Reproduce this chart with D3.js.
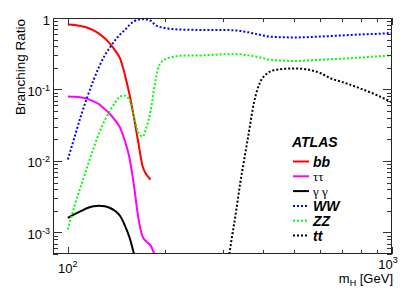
<!DOCTYPE html>
<html>
<head>
<meta charset="utf-8">
<script src="https://cdn.jsdelivr.net/npm/d3@7"></script>
<style>
  body { margin: 0; background: #fff; }
  svg text { font-family: "Liberation Sans", Arial, Helvetica, sans-serif; fill: #000; }
</style>
</head>
<body>
<svg id="chart" width="417" height="305"></svg>
<script>
// Higgs branching ratios vs mass
var massLow = [100,105,110,115,120,125,130,135,140,145,150,155,160,165,170,175,180,185,190];
var bb      = [0.81,0.80,0.77,0.73,0.67,0.60,0.52,0.435,0.35,0.27,0.16,0.085,0.040,0.018,0.0085,0.0064,0.0055,null,null];
var tautau  = [0.080,0.079,0.077,0.074,0.068,0.062,0.053,0.045,0.037,0.029,0.019,0.011,0.0045,0.0016,0.00088,0.00074,0.00066,0.00050,0.00038];
var gamgam  = [0.0016,0.0018,0.0020,0.0022,0.00232,0.00237,0.00232,0.0022,0.0020,0.0017,0.00125,0.00085,0.00050,0.00028,null,null,null,null,null];

var massHigh = [100,105,110,115,120,125,130,135,140,145,150,155,160,165,170,175,180,185,190,195,200,210,220,240,260,280,300,320,340,360,380,400,420,450,500,550,600,650,700,800,900,1000];
var ww = [0.0105,0.022,0.044,0.080,0.135,0.21,0.30,0.39,0.49,0.59,0.68,0.80,0.90,0.95,0.96,0.95,0.92,0.82,0.76,0.74,0.72,0.70,0.69,0.685,0.68,0.68,0.68,0.675,0.66,0.63,0.60,0.57,0.55,0.54,0.535,0.54,0.55,0.56,0.57,0.59,0.60,0.62];
var zz = [0.0011,0.0024,0.0046,0.0085,0.015,0.025,0.037,0.051,0.066,0.080,0.082,0.070,0.042,0.025,0.022,0.030,0.050,0.11,0.20,0.245,0.265,0.285,0.295,0.30,0.30,0.305,0.31,0.31,0.31,0.30,0.29,0.275,0.26,0.255,0.25,0.255,0.26,0.265,0.27,0.28,0.29,0.30];

var massTT = [310,315,320,330,340,350,360,375,390,410,430,450,500,550,600,650,700,800,900,1000];
var tt     = [0.0003,0.0005,0.0008,0.0019,0.0048,0.0105,0.022,0.065,0.12,0.165,0.185,0.192,0.197,0.19,0.17,0.142,0.128,0.103,0.083,0.066];

var series = [
    {label: "bb",  mass: massLow,  values: bb,     color: "#ff0000", dotted: false, bold: true},
    {label: "\u03c4\u03c4", mass: massLow, values: tautau, color: "#ff00ff", dotted: false, bold: false},
    {label: "\u03b3 \u03b3", mass: massLow, values: gamgam, color: "#000000", dotted: false, bold: false},
    {label: "WW",  mass: massHigh, values: ww,     color: "#0000ff", dotted: true, bold: true},
    {label: "ZZ",  mass: massHigh, values: zz,     color: "#00ff00", dotted: true, bold: true},
    {label: "tt",  mass: massTT,   values: tt,     color: "#000000", dotted: true, bold: true}
];

var yMajor = [1e-3, 1e-2, 1e-1, 1];
var yMajorLabels = [["10","-3"],["10","-2"],["10","-1"],["1",""]];
var xMajor = [100, 1000];
var xMajorLabels = [["10","2"],["10","3"]];

var svg = d3.select("#chart");
var pLeft = 53, pRight = 392, pTop = 18, pBottom = 254;

var x = d3.scaleLog().domain([90, 1000]).range([pLeft, pRight]);
var y = d3.scaleLog().domain([5e-4, 1]).range([pBottom, pTop]);

svg.append("clipPath").attr("id","plotclip")
    .append("rect").attr("x", pLeft).attr("y", pTop).attr("width", pRight-pLeft).attr("height", pBottom-pTop);

// curves
var g = svg.append("g").attr("clip-path","url(#plotclip)");
series.forEach(function(s){
    var pts = s.mass.map(function(m,i){ return {m: m, v: s.values[i]}; })
        .filter(function(d){ return d.v != null; });
    var line = d3.line()
        .x(function(d){ return x(d.m); })
        .y(function(d){ return y(d.v); })
        .curve(d3.curveMonotoneX);
    g.append("path")
        .datum(pts)
        .attr("d", line)
        .attr("fill","none")
        .attr("stroke", s.color)
        .attr("stroke-width", 2)
        .attr("stroke-dasharray", s.dotted ? "2,2" : null);
});

// frame
svg.append("rect")
    .attr("x", pLeft+0.5).attr("y", pTop+0.5)
    .attr("width", pRight-pLeft-1).attr("height", pBottom-pTop-1)
    .attr("fill","none").attr("stroke","#222").attr("stroke-width",1);

var ticks = svg.append("g").attr("stroke","#333").attr("stroke-width",1);

// x ticks (top and bottom)
var xMinor = [];
for (var k = 2; k <= 9; k++) xMinor.push(k*100);
xMajor.forEach(function(v){
    var px = Math.round(x(v)) + 0.5;
    ticks.append("line").attr("x1",px).attr("x2",px).attr("y1",pBottom).attr("y2",pBottom-7);
    ticks.append("line").attr("x1",px).attr("x2",px).attr("y1",pTop).attr("y2",pTop+7);
});
xMinor.forEach(function(v){
    var px = Math.round(x(v)) + 0.5;
    ticks.append("line").attr("x1",px).attr("x2",px).attr("y1",pBottom).attr("y2",pBottom-4);
    ticks.append("line").attr("x1",px).attr("x2",px).attr("y1",pTop).attr("y2",pTop+4);
});

// y ticks (left and right)
var yMinor = [];
[1e-4,1e-3,1e-2,1e-1].forEach(function(dec){
    for (var k = 2; k <= 9; k++) {
        var v = k*dec;
        if (v >= 5e-4 && v < 1) yMinor.push(v);
    }
});
yMajor.forEach(function(v){
    var py = Math.round(y(v)) + 0.5;
    ticks.append("line").attr("x1",pLeft).attr("x2",pLeft+9).attr("y1",py).attr("y2",py);
    ticks.append("line").attr("x1",pRight).attr("x2",pRight-9).attr("y1",py).attr("y2",py);
});
yMinor.forEach(function(v){
    var py = Math.round(y(v)) + 0.5;
    ticks.append("line").attr("x1",pLeft).attr("x2",pLeft+5).attr("y1",py).attr("y2",py);
    ticks.append("line").attr("x1",pRight).attr("x2",pRight-5).attr("y1",py).attr("y2",py);
});

// y labels
yMajor.forEach(function(v,i){
    var t = svg.append("text")
        .attr("x", 50).attr("y", y(v) + 6.5)
        .attr("text-anchor","end")
        .attr("font-size", 13);
    t.append("tspan").text(yMajorLabels[i][0]);
    if (yMajorLabels[i][1] != "")
        t.append("tspan").attr("dy",-5).attr("font-size",9).text(yMajorLabels[i][1]);
});

// x labels
xMajor.forEach(function(v,i){
    var t = svg.append("text")
        .attr("x", i == 0 ? x(v) : x(v) - 4)
        .attr("y", i == 0 ? 273 : 269)
        .attr("text-anchor","middle")
        .attr("font-size", 13);
    t.append("tspan").text(xMajorLabels[i][0]);
    t.append("tspan").attr("dy",-6).attr("font-size",9).text(xMajorLabels[i][1]);
});

// axis titles
var xt = svg.append("text")
    .attr("x", 393).attr("y", 283)
    .attr("text-anchor","end")
    .attr("font-size", 13);
xt.append("tspan").text("m");
xt.append("tspan").attr("dy",3).attr("font-size",9).text("H");
xt.append("tspan").attr("dy",-3).text(" [GeV]");

svg.append("text")
    .attr("transform","translate(25,19) rotate(-90)")
    .attr("text-anchor","end")
    .attr("font-size", 13.5)
    .text("Branching Ratio");

// legend
svg.append("text")
    .attr("x", 292).attr("y", 147)
    .attr("font-size", 14)
    .attr("font-weight","bold")
    .attr("font-style","italic")
    .text("ATLAS");

var legend = svg.append("g");
series.forEach(function(s,i){
    var cy = 161.5 + i*14.8;
    legend.append("line")
        .attr("x1", 293).attr("x2", 309)
        .attr("y1", cy).attr("y2", cy)
        .attr("stroke", s.color).attr("stroke-width", 2)
        .attr("stroke-dasharray", s.dotted ? "2,2" : null);
    legend.append("text")
        .attr("x", 313).attr("y", cy + 5)
        .attr("font-size", s.bold ? 14 : 13)
        .attr("font-weight", s.bold ? "bold" : "normal")
        .attr("font-style", s.bold ? "italic" : "normal")
        .style("font-family", s.bold ? null : "'Liberation Serif', 'DejaVu Serif', serif")
        .text(s.label);
});
</script>
</body>
</html>
